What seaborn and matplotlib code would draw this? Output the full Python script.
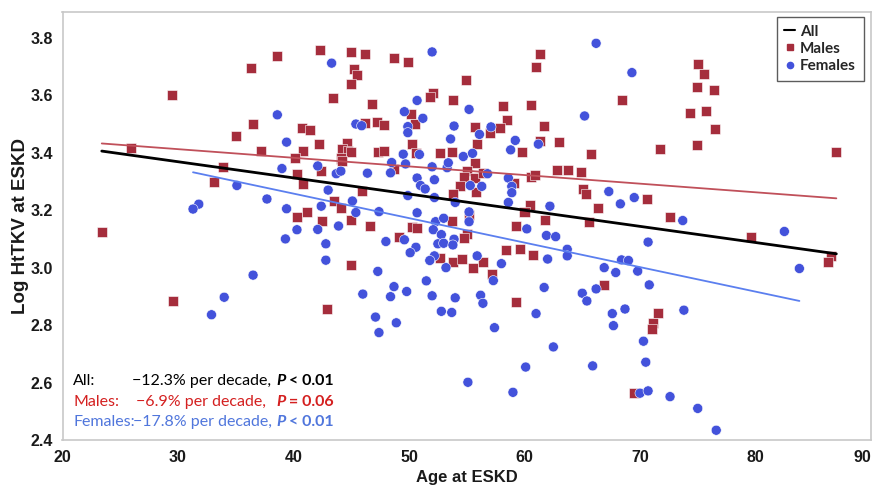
"""
Log HtTKV at ESKD versus age at ESKD, by sex, with linear fits.
"""
import numpy as np
import pandas as pd
import matplotlib
matplotlib.use("Agg")
import matplotlib.pyplot as plt
from matplotlib.lines import Line2D
import seaborn as sns

# --- data --------------------------------------------------------------
male_age = [38.6, 36.3, 29.5, 36.5, 35.0, 25.9, 37.2, 33.9, 33.1, 23.4,
            42.3, 45.0, 46.2, 48.7, 49.9, 45.2, 45.5, 45.0, 54.9, 43.4,
            52.1, 51.8, 53.8, 46.8, 50.2, 46.2, 47.2, 47.8, 50.5, 40.7,
            41.4, 55.7, 42.2, 44.6, 50.3, 55.9, 40.8, 44.2, 44.7, 45.0,
            47.3, 47.8, 50.6, 52.7, 53.7, 40.1, 44.1, 44.2, 55.7, 42.4,
            48.7, 55.0, 40.3, 54.8, 55.7, 40.8, 54.4, 53.8, 55.8, 45.9,
            43.5, 44.1, 41.2, 40.3, 42.5, 45.0, 46.6, 53.7, 55.2, 50.3,
            50.7, 49.1, 55.0, 54.8,
            52.7, 53.8, 54.6, 55.5, 45.0, 42.9,
            56.4, 58.4, 59.6, 60.7, 57.2, 66.9, 59.3, 71.6, 71.1, 71.0, 69.5,
            61.3, 61.0, 68.4, 58.1, 60.6, 58.5, 57.9, 61.7, 57.0, 61.3,
            63.0, 59.8, 65.8, 71.7, 56.4, 60.6, 60.9, 62.8, 63.8, 64.9,
            59.1, 65.1, 65.3, 70.6, 60.5, 60.0, 66.4, 72.6, 61.8, 65.6, 59.3,
            75.0, 75.5, 74.9, 76.4, 74.3, 75.7, 76.5, 74.9, 87.0, 79.6,
            86.5, 86.3, 29.6]
male_val = [3.738, 3.694, 3.601, 3.499, 3.457, 3.417, 3.405, 3.351, 3.299, 3.124,
            3.758, 3.751, 3.743, 3.729, 3.715, 3.693, 3.672, 3.638, 3.654, 3.592,
            3.607, 3.593, 3.585, 3.570, 3.536, 3.502, 3.506, 3.495, 3.499, 3.485,
            3.479, 3.491, 3.429, 3.434, 3.432, 3.431, 3.407, 3.414, 3.405, 3.402,
            3.403, 3.407, 3.399, 3.399, 3.401, 3.383, 3.380, 3.371, 3.363, 3.337,
            3.342, 3.335, 3.327, 3.317, 3.313, 3.291, 3.283, 3.258, 3.264, 3.268,
            3.233, 3.208, 3.195, 3.177, 3.163, 3.167, 3.146, 3.163, 3.183, 3.142,
            3.138, 3.105, 3.117, 3.103,
            3.033, 3.020, 3.030, 2.998, 3.010, 2.857,
            3.021, 3.060, 3.064, 3.043, 2.979, 2.940, 2.882, 2.842, 2.808, 2.788, 2.563,
            3.745, 3.699, 3.585, 3.564, 3.566, 3.513, 3.487, 3.492, 3.470, 3.442,
            3.437, 3.403, 3.397, 3.413, 3.329, 3.317, 3.323, 3.340, 3.341, 3.333,
            3.295, 3.275, 3.257, 3.239, 3.218, 3.195, 3.208, 3.177, 3.165, 3.160, 3.146,
            3.708, 3.674, 3.629, 3.617, 3.537, 3.547, 3.481, 3.428, 3.402, 3.108,
            3.042, 3.021, 2.883]

female_age = [38.6, 35.1, 37.7, 31.8, 31.3,
              52.0, 43.3, 50.7, 55.2, 49.6, 51.2, 45.4, 45.9, 49.9, 49.9,
              53.9, 53.6, 56.1, 39.4, 49.5, 50.9, 54.7, 55.5, 48.5, 49.7,
              52.0, 53.3, 53.4, 39.0, 42.1, 43.7, 44.1, 46.4, 48.4, 50.7,
              52.2, 51.0, 51.4, 55.3, 43.0, 49.9, 52.2, 54.0, 39.4, 42.4,
              45.1, 45.4, 47.4, 50.7, 52.3, 53.0, 55.2, 40.3, 42.1, 43.9,
              52.1, 52.8, 39.3,
              48.0, 49.6, 42.8, 50.6, 50.1, 52.5, 53.0, 53.9, 53.8, 52.2,
              51.8, 53.2, 55.9, 42.8, 47.3, 51.5, 48.7, 49.8, 46.0, 48.4,
              52.0, 54.0, 56.2, 47.1, 52.8, 53.7, 48.9, 47.4, 55.1,
              70.7, 58.0, 62.0, 63.7, 63.7, 66.9, 67.9, 68.4, 69.0, 69.8,
              70.8, 57.3, 61.7, 65.0, 65.4, 66.2, 56.4, 61.0, 67.6, 68.7,
              67.7, 57.4, 62.5, 70.3, 70.5, 60.1, 65.9, 59.0, 70.0, 70.7, 72.6,
              66.2, 69.3, 65.2, 57.1, 59.2, 61.2, 58.8, 56.8, 56.3, 58.6,
              58.9, 58.9, 58.6, 67.3, 68.3, 69.5, 62.2, 60.2, 61.9, 62.7, 55.2,
              73.7, 82.5, 83.8, 73.8, 75.0, 76.6,
              36.5, 34.0, 32.9]
female_val = [3.532, 3.286, 3.239, 3.221, 3.204,
              3.751, 3.712, 3.582, 3.551, 3.543, 3.520, 3.500, 3.494, 3.491, 3.470,
              3.493, 3.448, 3.464, 3.437, 3.395, 3.394, 3.387, 3.398, 3.366, 3.361,
              3.351, 3.348, 3.365, 3.345, 3.354, 3.327, 3.336, 3.329, 3.330, 3.312,
              3.306, 3.286, 3.274, 3.286, 3.270, 3.251, 3.244, 3.227, 3.205, 3.214,
              3.232, 3.192, 3.195, 3.191, 3.160, 3.172, 3.160, 3.132, 3.133, 3.145,
              3.132, 3.115, 3.100,
              3.091, 3.097, 3.083, 3.071, 3.052, 3.083, 3.085, 3.099, 3.079, 3.041,
              3.025, 3.000, 3.041, 3.026, 2.987, 2.954, 2.934, 2.917, 2.908, 2.899,
              2.902, 2.895, 2.904, 2.828, 2.848, 2.844, 2.808, 2.774, 2.601,
              3.089, 3.014, 3.030, 3.064, 3.041, 3.000, 2.983, 3.027, 3.025, 2.988,
              2.940, 2.955, 2.931, 2.911, 2.884, 2.926, 2.876, 2.840, 2.840, 2.856,
              2.798, 2.791, 2.724, 2.744, 2.671, 2.654, 2.658, 2.566, 2.563, 2.571, 2.551,
              3.781, 3.679, 3.528, 3.490, 3.443, 3.430, 3.410, 3.327, 3.283, 3.312,
              3.283, 3.261, 3.227, 3.265, 3.222, 3.244, 3.214, 3.135, 3.112, 3.108, 3.194,
              3.164, 3.126, 2.997, 2.852, 2.510, 2.434,
              2.974, 2.897, 2.836]

groups = ["All", "Males", "Females"]
stat_text = ["\u221212.3% per decade,", "\u22126.9% per decade,", "\u221217.8% per decade,"]
p_text = [" < 0.01", " = 0.06", " < 0.01"]

x_ticks = list(range(20, 91, 10))
y_ticks = [2.4, 2.6, 2.8, 3.0, 3.2, 3.4, 3.6, 3.8]

# --- styling -----------------------------------------------------------
MALE_C = "#a52d3c"
FEMALE_C = "#4352db"
MALE_LINE = "#c0505a"
FEMALE_LINE = "#5b7fef"
TEXT_C = {"All": "black", "Males": "#d42020", "Females": "#5076dc"}
SPINE_C = "#c8c8c8"
BODY_FONT = ["Lato", "DejaVu Sans"]
AXIS_FONT = ["Liberation Sans", "DejaVu Sans"]

sns.set_theme(style="white")
plt.rcParams["font.family"] = BODY_FONT

df = pd.concat([
    pd.DataFrame({"age": male_age, "val": male_val, "sex": "Males"}),
    pd.DataFrame({"age": female_age, "val": female_val, "sex": "Females"}),
], ignore_index=True)

fig = plt.figure(figsize=(8.75, 4.87), dpi=100)
ax = fig.add_axes([62.5 / 875, 47 / 487, 808.5 / 875, 428 / 487])

sns.scatterplot(data=df, x="age", y="val", hue="sex", style="sex",
                markers={"Males": "s", "Females": "o"},
                palette={"Males": MALE_C, "Females": FEMALE_C},
                s=52, edgecolor="white", linewidth=0.4, legend=False, ax=ax,
                zorder=2)

# linear fits drawn over each group's age range
sns.regplot(data=df[df["sex"] == "Males"], x="age", y="val", scatter=False,
            ci=None, color=MALE_LINE, line_kws={"lw": 1.3, "zorder": 3}, ax=ax)
sns.regplot(data=df[df["sex"] == "Females"], x="age", y="val", scatter=False,
            ci=None, color=FEMALE_LINE, line_kws={"lw": 1.3, "zorder": 3}, ax=ax)
sns.regplot(data=df, x="age", y="val", scatter=False, ci=None, color="black",
            line_kws={"lw": 2.0, "zorder": 4}, ax=ax)

ax.set_xlim(20, 90)
ax.set_ylim(2.4, 3.89)
ax.set_xticks(x_ticks)
ax.set_yticks(y_ticks)
ax.set_xticks(np.arange(25, 90, 10), minor=True)
ax.set_yticks(np.arange(2.5, 3.85, 0.2), minor=True)
ax.set_xticklabels([str(t) for t in x_ticks], family=AXIS_FONT,
                   fontweight="bold", fontsize=11.5)
ax.set_yticklabels([f"{t:.1f}" for t in y_ticks], family=AXIS_FONT,
                   fontweight="bold", fontsize=11.5)
# keep the last x label inside the figure
ax.get_xticklabels()[-1].set_horizontalalignment("right")
ax.tick_params(axis="both", which="both", direction="out", color=SPINE_C,
               labelcolor="#1a1a1a", pad=3)
ax.tick_params(which="major", length=4, width=1)
ax.tick_params(which="minor", length=3, width=0.8)
ax.grid(False)
for sp in ax.spines.values():
    sp.set_visible(True)
    sp.set_color(SPINE_C)
    sp.set_linewidth(1.2)

ax.set_xlabel("Age at ESKD", family=AXIS_FONT, fontweight="bold",
              fontsize=12, color="#1a1a1a", labelpad=4)
ax.set_ylabel("Log HtTKV at ESKD", family=AXIS_FONT, fontweight="bold",
              fontsize=13.5, color="#1a1a1a")
ax.yaxis.set_label_coords(-0.041, 0.5)

# legend
handles = [
    Line2D([], [], color="black", lw=1.5),
    Line2D([], [], color=MALE_C, marker="s", ls="none", markersize=4.5),
    Line2D([], [], color=FEMALE_C, marker="o", ls="none", markersize=4.5),
]
leg = ax.legend(handles, groups, loc="upper right",
                bbox_to_anchor=(0.991, 0.988), borderaxespad=0,
                frameon=True, fancybox=False, handlelength=0.7,
                handletextpad=0.35, borderpad=0.5, labelspacing=0.2,
                prop={"family": BODY_FONT, "weight": "bold", "size": 11})
leg.get_frame().set_edgecolor("#333333")
leg.get_frame().set_linewidth(1.0)

# slope / p-value annotations
row_y = [0.138, 0.0895, 0.0428]
stat_x = [0.0856, 0.0909, 0.0868]
for grp, y, sx, st, pt in zip(groups, row_y, stat_x, stat_text, p_text):
    c = TEXT_C[grp]
    ax.text(0.0134, y, grp + ":", color=c, fontsize=11.5, va="center",
            transform=ax.transAxes)
    ax.text(sx, y, st, color=c, fontsize=11.5, va="center",
            transform=ax.transAxes)
    p = ax.text(0.264, y, "P", color=c, fontsize=11.5, va="center",
                fontweight="bold", fontstyle="italic", transform=ax.transAxes)
    ax.annotate(pt, xy=(1, 0), xycoords=p, va="bottom", ha="left",
                color=c, fontsize=11.5, fontweight="bold")

fig.savefig("out.png", dpi=100)
